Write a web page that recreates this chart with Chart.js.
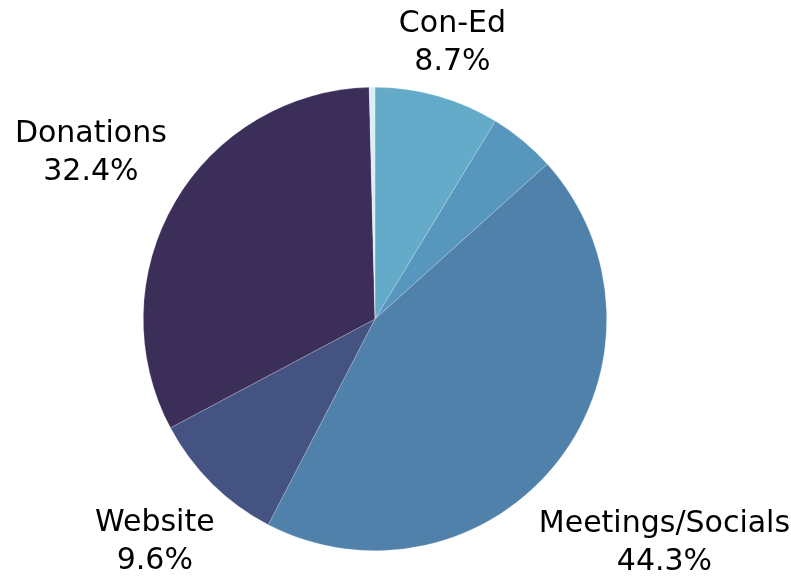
<!DOCTYPE html>
<html>
<head>
<meta charset="utf-8">
<script src="https://cdn.jsdelivr.net/npm/chart.js@4"></script>
<style>
  html, body { margin: 0; padding: 0; background: #ffffff; }
  #wrap { width: 791px; height: 578px; }
</style>
</head>
<body>
<div id="wrap"><canvas id="c" width="791" height="578"></canvas></div>
<script>
// Data
const categories = ["Con-Ed", "Other", "Meetings/Socials", "Website", "Donations", "Misc"];
const shares = [8.7, 4.65, 44.3, 9.6, 32.4, 0.4];
const shownLabels = ["Con-Ed", "", "Meetings/Socials", "Website", "Donations", ""];
const shownPercents = ["8.7%", "", "44.3%", "9.6%", "32.4%", ""];

// Styles / layout
const sliceColors = ["#64abc9", "#5797bd", "#5081ab", "#445381", "#3b2f5a", "#dbeef5"];
const labelDistance = [287, 0, 366, 313, 329, 0];

const outsideLabels = {
  id: 'outsideLabels',
  afterDatasetsDraw(chart) {
    const ctx = chart.ctx;
    const meta = chart.getDatasetMeta(0);
    ctx.save();
    ctx.fillStyle = '#000000';
    ctx.font = '30px "DejaVu Sans"';
    ctx.textAlign = 'center';
    ctx.textBaseline = 'middle';
    meta.data.forEach((arc, i) => {
      if (!shownLabels[i]) return;
      const p = arc.getProps(['x', 'y', 'startAngle', 'endAngle'], true);
      const mid = (p.startAngle + p.endAngle) / 2;
      const d = labelDistance[i];
      const cx = p.x + Math.cos(mid) * d;
      const cy = p.y + Math.sin(mid) * d;
      ctx.fillText(shownLabels[i], cx, cy - 18.5);
      ctx.fillText(shownPercents[i], cx, cy + 19.5);
    });
    ctx.restore();
  }
};

new Chart(document.getElementById('c'), {
  type: 'pie',
  data: {
    labels: categories,
    datasets: [{
      data: shares,
      backgroundColor: sliceColors,
      borderColor: 'rgba(255,255,255,0.35)',
      borderWidth: 0.6
    }]
  },
  options: {
    responsive: false,
    animation: false,
    layout: { padding: { top: 87, bottom: 27, left: 0, right: 41 } },
    plugins: {
      legend: { display: false },
      tooltip: { enabled: false }
    }
  },
  plugins: [outsideLabels]
});
</script>
</body>
</html>
